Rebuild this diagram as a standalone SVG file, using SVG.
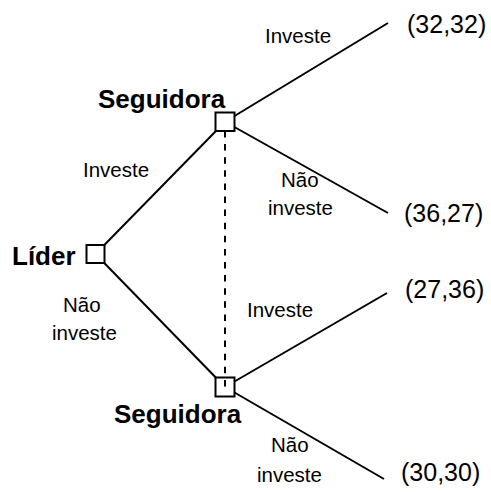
<svg xmlns="http://www.w3.org/2000/svg" width="491" height="492" viewBox="0 0 491 492">
<style>
.edge{stroke:#000;stroke-width:2;fill:none}
.dash{stroke:#000;stroke-width:2;stroke-dasharray:6.5 6.6;fill:none}
.box{fill:#fff;stroke:#000;stroke-width:2}
.b{font-family:"Liberation Sans",Arial,sans-serif;font-weight:bold;font-size:26px;fill:#000}
.l{font-family:"Liberation Sans",Arial,sans-serif;font-size:20.5px;fill:#000}
.p{font-family:"Liberation Sans",Arial,sans-serif;font-size:25px;fill:#000}
</style>
<rect width="491" height="492" fill="#fff"/>
<g id="connectors">
<line class="edge" x1="95.5" y1="254" x2="225" y2="121.75"/>
<line class="edge" x1="95.5" y1="254" x2="225" y2="387"/>
<line class="edge" x1="225" y1="121.75" x2="388" y2="23"/>
<line class="edge" x1="225" y1="121.75" x2="388" y2="213"/>
<line class="edge" x1="225" y1="387" x2="387" y2="293"/>
<line class="edge" x1="225" y1="387" x2="384" y2="479"/>
</g>
<g id="lider">
<rect class="box" x="86.5" y="245" width="18" height="18"/>
<text class="b" x="12" y="265">Líder</text>
</g>
<g id="seguidora-top">
<rect class="box" x="215.5" y="112.5" width="19" height="18.5"/>
<text class="b" x="98" y="108">Seguidora</text>
</g>
<g id="seguidora-bottom">
<rect class="box" x="215.5" y="377.5" width="19" height="19"/>
<text class="b" x="114" y="423">Seguidora</text>
</g>
<g id="info-set">
<line class="dash" x1="225" y1="131" x2="225" y2="388"/>
</g>
<g id="labels">
<text class="l" x="83" y="177">Investe</text>
<text class="l" x="63" y="312">Não</text>
<text class="l" x="52" y="340">investe</text>
<text class="l" x="265" y="43">Investe</text>
<text class="l" x="281" y="187">Não</text>
<text class="l" x="268" y="215">investe</text>
<text class="l" x="247" y="317">Investe</text>
<text class="l" x="271" y="452">Não</text>
<text class="l" x="257" y="482">investe</text>
</g>
<g id="payoffs">
<text class="p" x="407" y="33">(32,32)</text>
<text class="p" x="404" y="222">(36,27)</text>
<text class="p" x="405" y="298">(27,36)</text>
<text class="p" x="401" y="481">(30,30)</text>
</g>
</svg>
